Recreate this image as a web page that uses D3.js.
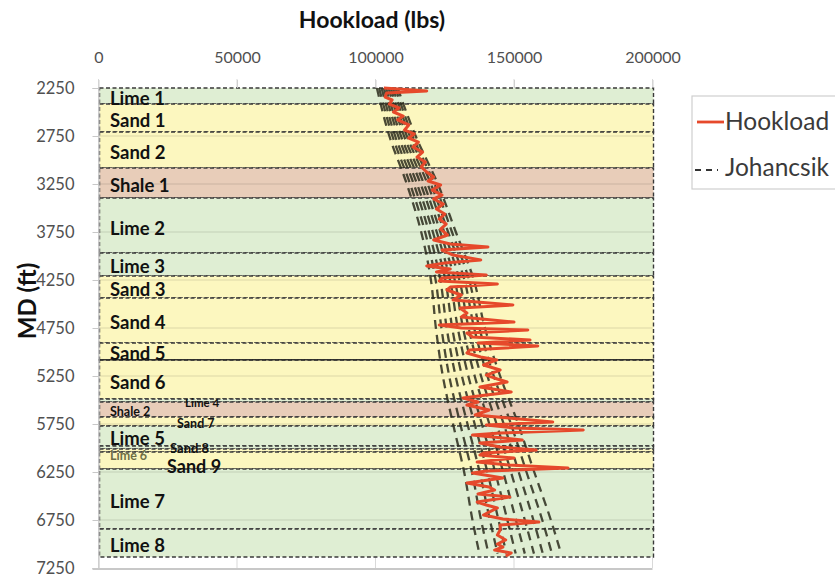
<!DOCTYPE html>
<html>
<head>
<meta charset="utf-8">
<script src="https://cdn.jsdelivr.net/npm/d3@7"></script>
<style>
body { margin: 0; background: #fff; }
text { font-family: Lato, "Open Sans", sans-serif; }
</style>
</head>
<body>
<svg id="drawing_region"></svg>
<script>
// formation intervals, MD in ft
const formNames = ['Lime 1', 'Sand 1', 'Sand 2', 'Shale 1', 'Lime 2', 'Lime 3', 'Sand 3', 'Sand 4', 'Sand 5', 'Sand 6',
    'Lime 4', 'Shale 2', 'Sand 7', 'Lime 5', 'Lime 6', 'Sand 8', 'Sand 9', 'Lime 7', 'Lime 8'];
const formTops  = [2250, 2417, 2708, 3083, 3396, 3969, 4208, 4437, 4906, 5083, 5490, 5521, 5677, 5771, 5979, 6010, 6042, 6219, 6844];
const formBases = [2417, 2708, 3083, 3396, 3969, 4208, 4437, 4906, 5083, 5490, 5521, 5677, 5771, 5979, 6010, 6042, 6219, 6844, 7135];
const formTypes = ['lime', 'sand', 'sand', 'shale', 'lime', 'lime', 'sand', 'sand', 'sand', 'sand',
    'lime', 'shale', 'sand', 'lime', 'lime', 'sand', 'sand', 'lime', 'lime'];

// measured hookload
const hookDepth = [2250, 2281, 2302, 2344, 2375, 2417, 2458, 2500, 2542, 2583, 2635, 2688, 2729, 2771, 2813, 2865, 2917, 2969,
    3021, 3073, 3125, 3177, 3219, 3260, 3313, 3365, 3406, 3458, 3510, 3563, 3615, 3667, 3719, 3781, 3833, 3875, 3906, 3938,
    3990, 4042, 4073, 4104, 4135, 4167, 4198, 4229, 4260, 4292, 4323, 4354, 4406, 4458, 4510, 4542, 4594, 4635, 4688, 4719,
    4750, 4771, 4802, 4844, 4875, 4906, 4938, 4979, 5010, 5052, 5083, 5135, 5188, 5240, 5281, 5313, 5365, 5417, 5448, 5479,
    5521, 5552, 5604, 5656, 5688, 5729, 5760, 5792, 5813, 5844, 5865, 5896, 5917, 5948, 5990, 6021, 6052, 6073, 6104, 6146,
    6177, 6208, 6240, 6260, 6313, 6365, 6406, 6438, 6479, 6510, 6563, 6594, 6625, 6667, 6698, 6740, 6771, 6802, 6854, 6906,
    6958, 7000, 7031, 7063, 7094, 7125];
const hookLoad = [103000, 118500, 104000, 103500, 106000, 105000, 108500, 106500, 110000, 108000, 112000, 110500, 114000, 112000,
    115500, 113500, 117000, 115000, 118000, 116500, 118500, 121000, 119000, 123500, 120500, 124000, 121000, 124500, 122000,
    125000, 123000, 125500, 123500, 126000, 121000, 127000, 140600, 124000, 128000, 138000, 125000, 118500, 127000, 122000,
    140000, 124000, 123000, 144000, 127000, 125800, 131000, 128000, 149600, 130500, 133000, 131000, 150000, 123000, 131000,
    155000, 133000, 135000, 155800, 137000, 158600, 134000, 133000, 138000, 143800, 139000, 145000, 140000, 144000, 147500,
    137700, 149000, 140000, 131600, 137000, 133000, 141000, 136000, 148000, 164000, 140000, 150000, 175000, 145000, 135000,
    146000, 153000, 137700, 145000, 158000, 139000, 137700, 150000, 136700, 148000, 169500, 140000, 135000, 146000, 133000,
    141000, 143000, 137000, 148500, 136700, 140000, 144000, 141000, 139000, 146000, 159000, 145000, 145000, 144000, 147000,
    144000, 146000, 143000, 149000, 147000];

// Johancsik model, one row per friction factor
const jDepth = [2250, 2750, 3250, 3750, 4250, 4750, 5250, 5750, 6250, 6750, 7100];
const johancsik = [
    [100500, 105000, 111300, 116500, 120000, 121800, 124300, 128000, 132000, 135000, 137500],
    [101300, 106100, 112500, 117900, 121700, 123800, 126600, 130600, 134800, 138100, 140800],
    [102200, 107100, 113800, 119300, 123400, 125700, 128900, 133200, 137600, 141300, 144100],
    [103000, 108200, 115000, 120700, 125200, 127700, 131200, 135800, 140400, 144400, 147300],
    [103800, 109200, 116300, 122100, 126900, 129700, 133500, 138400, 143200, 147600, 150600],
    [104700, 110300, 117500, 123400, 128600, 131600, 135800, 141100, 146100, 150700, 153900],
    [105500, 111300, 118800, 124800, 130300, 133600, 138100, 143700, 148900, 153900, 157200],
    [106300, 112400, 120000, 126200, 132100, 135600, 140400, 146300, 151700, 157000, 160400],
    [107200, 113400, 121300, 127600, 133800, 137500, 142700, 148900, 154500, 160200, 163700],
    [108000, 114500, 122500, 129000, 135500, 139500, 145000, 151500, 157300, 163300, 167000]
];

const xTicks = [0, 50000, 100000, 150000, 200000];
const yTicks = [2250, 2750, 3250, 3750, 4250, 4750, 5250, 5750, 6250, 6750, 7250];

const typeColor = { lime: '#dfeed3', sand: '#fcf7bf', shale: '#e8cdb9' };

// label tweaks for the thin layers
const labelTweak = {
    'Lime 4': { x: 185, size: 11.5, dy: 2 },
    'Shale 2': { size: 12.5, dy: 2 },
    'Sand 7': { x: 177, size: 12.5, dy: 2 },
    'Lime 6': { size: 12.5, dy: 8, color: '#6e6e45' },
    'Sand 8': { x: 170, size: 13, dy: -2.5 },
    'Sand 9': { x: 167, size: 18, dy: 5 }
};

class HookloadChart {
    constructor(config) {
        this.config = config;
        this.init();
    }

    init() {
        let self = this;
        self.svg = d3.select(self.config.parent)
            .attr('width', self.config.width)
            .attr('height', self.config.height);

        self.xScale = d3.scaleLinear().domain([0, 200000]).range([98.5, 652.5]);
        self.yScale = d3.scaleLinear().domain([2250, 7250]).range([88, 568]);
    }

    render() {
        let self = this;
        const x = self.xScale, y = self.yScale;

        // vertical grid (mostly hidden by the layers)
        self.svg.append('g').selectAll('line')
            .data(xTicks)
            .join('line')
            .attr('x1', d => x(d)).attr('x2', d => x(d))
            .attr('y1', 79).attr('y2', y(7250))
            .attr('stroke', '#d9d9d9').attr('stroke-width', 1);

        // formation layers
        const bands = formNames.map((n, i) => ({ name: n, top: formTops[i], base: formBases[i], type: formTypes[i] }));
        self.svg.append('g').selectAll('rect')
            .data(bands)
            .join('rect')
            .attr('x', x(0) + 1).attr('width', x(200000) - x(0))
            .attr('y', d => y(d.top)).attr('height', d => y(d.base) - y(d.top))
            .attr('fill', d => typeColor[d.type])
            .attr('stroke', '#3a3a3a').attr('stroke-width', 1.4)
            .attr('stroke-dasharray', '4,2.5');

        self.svg.append('line')
            .attr('x1', x(0)).attr('x2', x(200000))
            .attr('y1', y(5083)).attr('y2', y(5083))
            .attr('stroke', '#222').attr('stroke-width', 1.3);

        // horizontal grid
        self.svg.append('g').selectAll('line')
            .data(yTicks.slice(1, -1))
            .join('line')
            .attr('x1', x(0)).attr('x2', x(200000))
            .attr('y1', d => y(d)).attr('y2', d => y(d))
            .attr('stroke', 'rgba(0,0,0,0.13)').attr('stroke-width', 1);

        // axes
        const xAxis = d3.axisTop(x).tickValues(xTicks).tickSize(8).tickPadding(17).tickFormat(d3.format('d'));
        const gx = self.svg.append('g').attr('transform', `translate(0,${y(2250)})`).call(xAxis);
        gx.select('.domain').remove();
        gx.selectAll('line').attr('stroke', '#d0d0d0');
        gx.selectAll('text').attr('font-size', 16).attr('fill', '#505050');

        const yAxis = d3.axisLeft(y).tickValues(yTicks).tickSize(6).tickPadding(18).tickFormat(d3.format('d'));
        const gy = self.svg.append('g').attr('transform', `translate(${x(0)},0)`).call(yAxis);
        gy.select('.domain').attr('stroke', '#c8c8c8').attr('stroke-width', 1.2);
        gy.selectAll('line').attr('stroke', '#c8c8c8');
        gy.selectAll('text').attr('font-size', 16.5).attr('fill', '#505050');

        self.svg.append('line')
            .attr('x1', x(0) - 6).attr('x2', x(200000))
            .attr('y1', y(7250) + 1).attr('y2', y(7250) + 1)
            .attr('stroke', '#c8c8c8').attr('stroke-width', 2);

        // layer names
        self.svg.append('g').selectAll('text')
            .data(bands)
            .join('text')
            .attr('x', d => (labelTweak[d.name] && labelTweak[d.name].x) || 110)
            .attr('y', d => (y(d.top) + y(d.base)) / 2 + ((labelTweak[d.name] && labelTweak[d.name].dy !== undefined) ? labelTweak[d.name].dy : 2))
            .attr('dominant-baseline', 'central')
            .attr('font-weight', 'bold')
            .attr('font-size', d => (labelTweak[d.name] && labelTweak[d.name].size) || 18.5)
            .attr('fill', d => (labelTweak[d.name] && labelTweak[d.name].color) || '#111')
            .text(d => d.name);

        // Johancsik curves
        const jLine = d3.line()
            .x(d => x(d[1]))
            .y(d => y(d[0]))
            .curve(d3.curveMonotoneY);
        self.svg.append('g').selectAll('path')
            .data(johancsik.map(row => row.map((v, i) => [jDepth[i], v])))
            .join('path')
            .attr('d', jLine)
            .attr('fill', 'none')
            .attr('stroke', '#2c2c1c').attr('stroke-opacity', 0.85)
            .attr('stroke-width', 2.3)
            .attr('stroke-dasharray', '9,6');

        // measured hookload
        const hLine = d3.line()
            .x(d => x(d[1]))
            .y(d => y(d[0]));
        self.svg.append('path')
            .datum(hookDepth.map((dp, i) => [dp, hookLoad[i]]))
            .attr('d', hLine)
            .attr('fill', 'none')
            .attr('stroke', '#e6492b')
            .attr('stroke-width', 3)
            .attr('stroke-linejoin', 'round');

        // titles
        self.svg.append('text')
            .attr('x', 372).attr('y', 28)
            .attr('text-anchor', 'middle')
            .attr('font-size', 23).attr('font-weight', 'bold').attr('fill', '#111')
            .text('Hookload (lbs)');
        self.svg.append('text')
            .attr('transform', 'translate(36,301) rotate(-90)')
            .attr('text-anchor', 'middle')
            .attr('font-size', 24).attr('font-weight', 'bold').attr('fill', '#111')
            .text('MD (ft)');

        // legend
        const lg = self.svg.append('g');
        lg.append('rect')
            .attr('x', 692).attr('y', 96).attr('width', 170).attr('height', 93)
            .attr('fill', '#fff').attr('stroke', '#cfcfcf').attr('stroke-width', 1.2);
        lg.append('line')
            .attr('x1', 697).attr('x2', 724).attr('y1', 122).attr('y2', 122)
            .attr('stroke', '#e6492b').attr('stroke-width', 2.8);
        lg.append('text').attr('x', 725).attr('y', 130)
            .attr('font-size', 24.5).attr('fill', '#3a3a3a').text('Hookload');
        lg.append('line')
            .attr('x1', 695).attr('x2', 718).attr('y1', 170).attr('y2', 170)
            .attr('stroke', '#333').attr('stroke-width', 2)
            .attr('stroke-dasharray', '6,5');
        lg.append('text').attr('x', 725).attr('y', 176)
            .attr('font-size', 24.5).attr('fill', '#3a3a3a').text('Johancsik');
    }
}

const chart = new HookloadChart({ parent: '#drawing_region', width: 835, height: 577 });
chart.render();
</script>
</body>
</html>
